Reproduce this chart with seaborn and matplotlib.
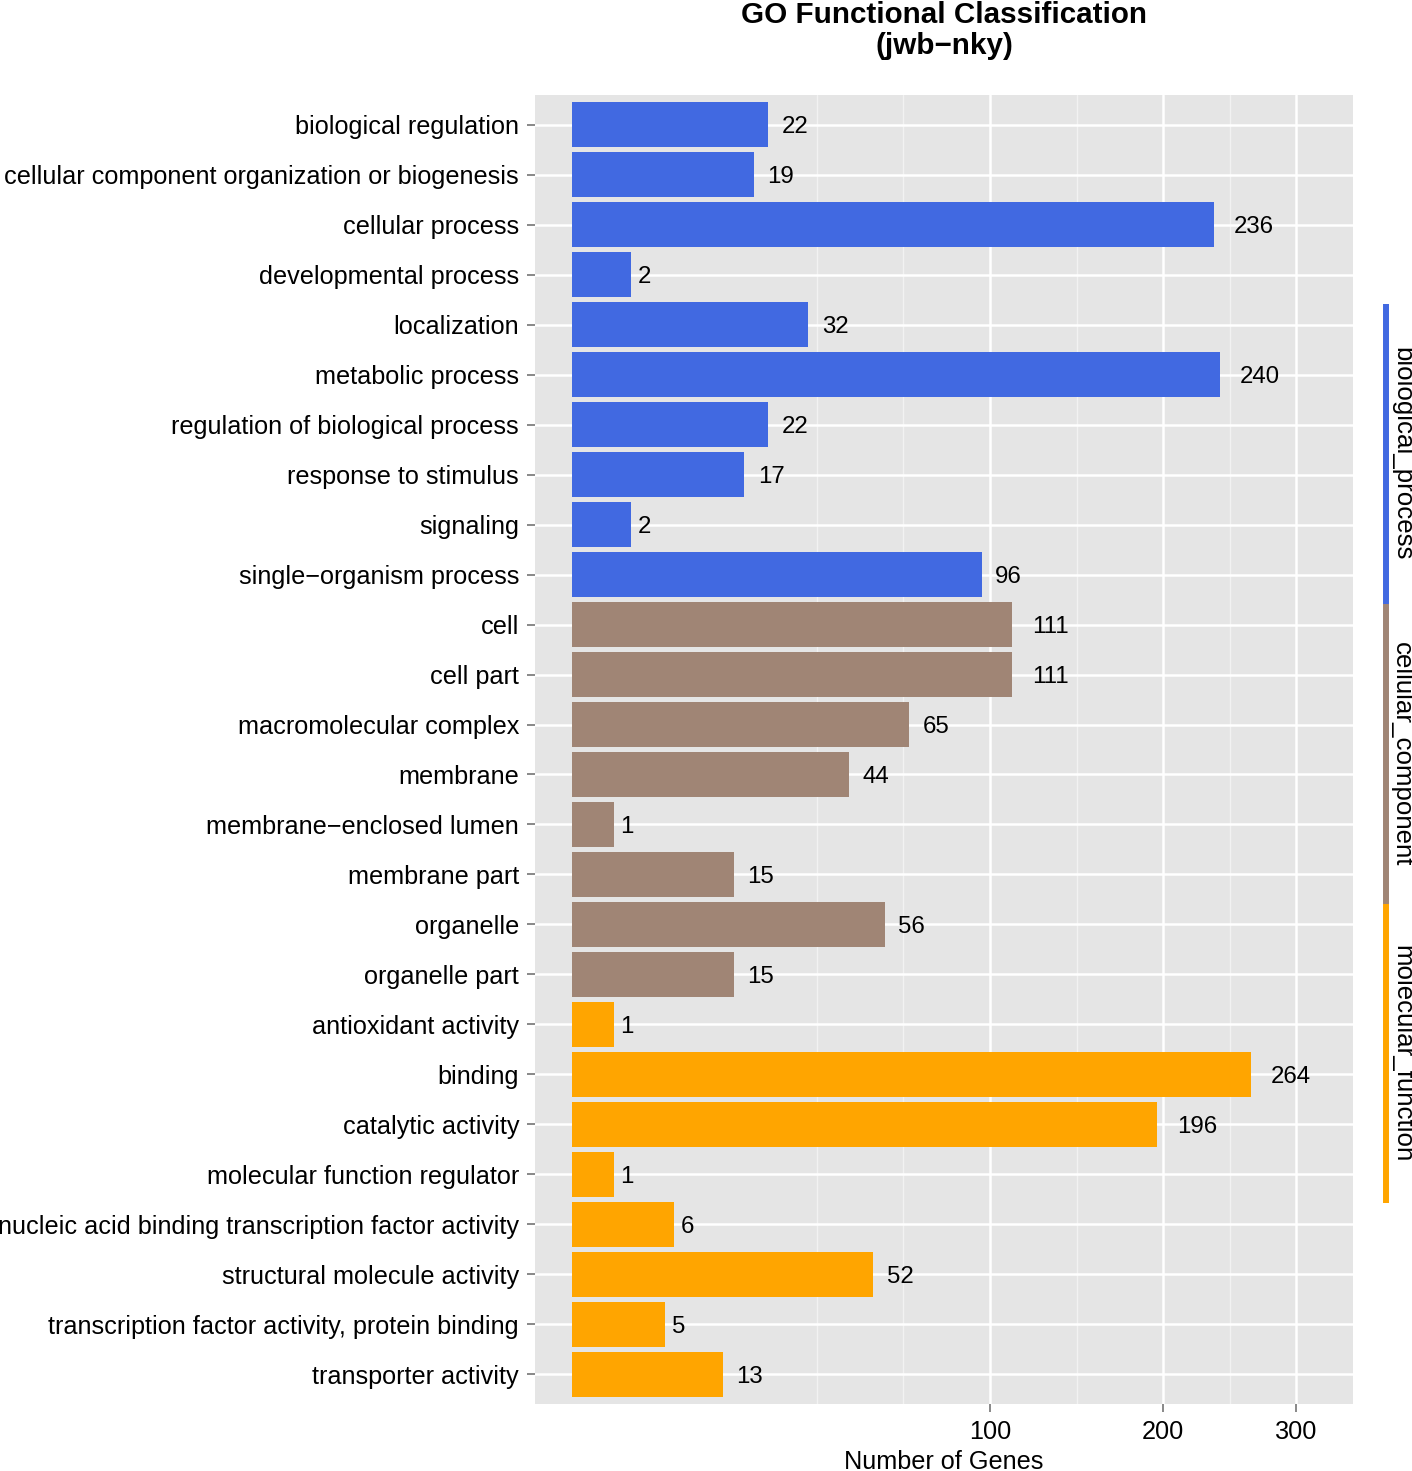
import numpy as np
import pandas as pd
import matplotlib
matplotlib.use("Agg")
import matplotlib.pyplot as plt
from matplotlib.lines import Line2D
import seaborn as sns

# GO terms, top to bottom
terms = [
    "biological regulation",
    "cellular component organization or biogenesis",
    "cellular process",
    "developmental process",
    "localization",
    "metabolic process",
    "regulation of biological process",
    "response to stimulus",
    "signaling",
    "single\u2212organism process",
    "cell",
    "cell part",
    "macromolecular complex",
    "membrane",
    "membrane\u2212enclosed lumen",
    "membrane part",
    "organelle",
    "organelle part",
    "antioxidant activity",
    "binding",
    "catalytic activity",
    "molecular function regulator",
    "nucleic acid binding transcription factor activity",
    "structural molecule activity",
    "transcription factor activity, protein binding",
    "transporter activity",
]
counts = [22, 19, 236, 2, 32, 240, 22, 17, 2, 96,
          111, 111, 65, 44, 1, 15, 56, 15,
          1, 264, 196, 1, 6, 52, 5, 13]
ontology = (["biological_process"] * 10 + ["cellular_component"] * 8
            + ["molecular_function"] * 8)
groups = ["biological_process", "cellular_component", "molecular_function"]
group_colors = ["#4169E1", "#A08575", "#FFA500"]
x_ticks = [100, 200, 300]

df = pd.DataFrame({"term": terms, "count": counts, "ontology": ontology})
palette = dict(zip(groups, group_colors))

sns.set_style("darkgrid", {"axes.facecolor": "#E5E5E5", "grid.color": "white",
                           "text.color": "black", "axes.labelcolor": "black",
                           "xtick.color": "black", "ytick.color": "black"})
plt.rcParams["font.family"] = ["Liberation Sans", "DejaVu Sans"]

W, H = 1412, 1471
fig = plt.figure(figsize=(W / 100, H / 100), dpi=100)
ax = fig.add_axes([535 / W, 1 - 1404 / H, (1353 - 535) / W, 1309 / H])

sns.barplot(data=df, x="count", y="term", hue="ontology", palette=palette,
            dodge=False, width=0.9, orient="h", legend=False, saturation=1,
            linewidth=0, ax=ax)


# sqrt axis like ggplot's scale_y_sqrt
def fwd(x):
    return np.sign(x) * np.sqrt(np.abs(x))


def inv(x):
    return np.sign(x) * np.asarray(x) ** 2


ax.set_xscale("function", functions=(fwd, inv))
ax.set_xlim(-0.783, 349.1)
ax.set_ylim(len(terms) - 0.4, -0.6)
ax.set_xticks(x_ticks)
ax.set_xticklabels([str(t) for t in x_ticks])
# minor breaks halfway between majors in sqrt space
mids = np.sqrt(x_ticks)
step = (mids[1] - mids[0]) / 2
minor = [(mids[0] - 2 * step) ** 2, (mids[0] - step) ** 2,
         ((mids[0] + mids[1]) / 2) ** 2, ((mids[1] + mids[2]) / 2) ** 2]
ax.set_xticks(minor, minor=True)
ax.set_axisbelow(True)
ax.grid(which="major", color="white", lw=1.8)
ax.grid(which="minor", axis="x", color="#F2F2F2", lw=1.0)
for s in ax.spines.values():
    s.set_visible(False)

fs = 18.2
ax.tick_params(axis="both", which="major", left=True, bottom=True, length=5.5,
               width=1.3, color="#7F7F7F", labelsize=fs, labelcolor="black", pad=6)
ax.tick_params(axis="x", which="minor", length=0)
ax.set_ylabel("")
ax.set_xlabel("Number of Genes", fontsize=fs, labelpad=4)

# count labels, hjust = -0.5 like ggplot
vfs = 17.3
for i, v in enumerate(counts):
    txt = str(v)
    ax.annotate(txt, (v, i), xytext=(0.5 * len(txt) * 0.556 * vfs, 0),
                textcoords="offset points", va="center_baseline", ha="left",
                fontsize=vfs)

fig.text(944 / W, 1 - 1 / H, "GO Functional Classification\n(jwb\u2212nky)",
         ha="center", va="top", fontsize=21.3, fontweight="bold", linespacing=1.12)

# colour key on the right
seg = [(304, 604), (604, 904), (904, 1203)]
for (y0, y1), g, c in zip(seg, groups, group_colors):
    fig.add_artist(Line2D([1386 / W, 1386 / W], [1 - y0 / H, 1 - y1 / H],
                          color=c, lw=4.3, solid_capstyle="butt",
                          transform=fig.transFigure))
    fig.text(1402 / W, 1 - (y0 + y1) / 2 / H, g, rotation=270, ha="center",
             va="center", fontsize=18.6)

fig.savefig("out.png", dpi=100)
